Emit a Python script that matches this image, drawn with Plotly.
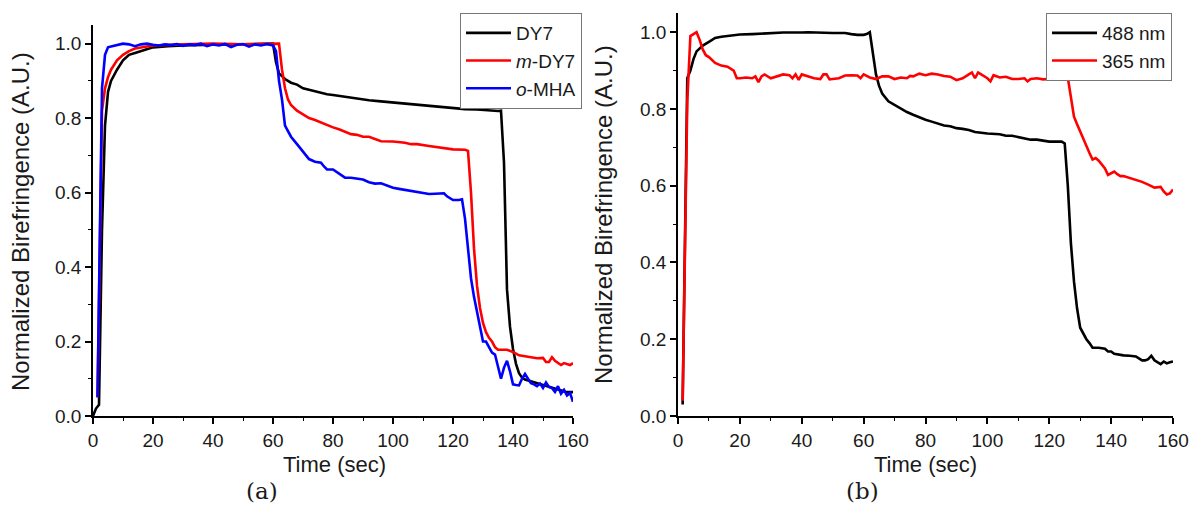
"""Normalized birefringence vs time, two panels (a) and (b)."""

import plotly.graph_objects as go

# ---- panel (a) data ----
dy7_t = [0, 1, 2, 3, 4, 5, 6, 8, 10, 12, 14, 16, 18, 20, 25, 30, 40, 50, 60,
         61, 62, 64, 66, 68, 70, 72, 74, 76, 78, 80, 84, 88, 92, 96, 100, 104,
         108, 112, 116, 120, 124, 128, 132, 135, 136, 137, 138, 139, 140, 141,
         142, 143, 144, 146, 148, 150, 152, 154, 156, 158, 160]
dy7_y = [0.0, 0.02, 0.03, 0.5, 0.78, 0.87, 0.9, 0.93, 0.955, 0.97, 0.975, 0.98,
         0.985, 0.99, 0.993, 0.995, 0.997, 0.998, 1.0,
         0.95, 0.92, 0.905, 0.895, 0.89, 0.88, 0.876, 0.872, 0.867, 0.864, 0.862,
         0.857, 0.852, 0.848, 0.845, 0.842, 0.838, 0.836, 0.833, 0.83, 0.827,
         0.824, 0.823, 0.82, 0.819, 0.82, 0.68, 0.34, 0.24, 0.18, 0.14,
         0.115, 0.103, 0.098, 0.093, 0.088, 0.083, 0.078, 0.072, 0.068, 0.064, 0.064]

mdy7_t = [1.5, 2.5, 3, 4, 5, 6, 8, 10, 12, 14, 16, 20, 30, 40, 50, 60, 62, 63,
          64, 65, 66, 68, 70, 72, 74, 76, 78, 80, 82, 84, 86, 88, 90, 92, 94, 96,
          100, 104, 106, 108, 112, 116, 118, 120, 124, 125, 126, 127, 128, 129,
          130, 131, 132, 133, 134, 135, 138, 140, 142, 144, 146, 148, 150, 151,
          152, 153, 154, 156, 157, 158, 159, 160]
mdy7_y = [0.05, 0.6, 0.82, 0.88, 0.91, 0.93, 0.955, 0.97, 0.98, 0.987, 0.99,
          0.995, 0.998, 1.0, 0.998, 0.998, 1.0, 0.93,
          0.88, 0.85, 0.835, 0.82, 0.81, 0.8, 0.795, 0.788, 0.782, 0.775, 0.77,
          0.763, 0.757, 0.755, 0.75, 0.75, 0.743, 0.738,
          0.737, 0.734, 0.73, 0.73, 0.725, 0.72, 0.718, 0.716, 0.715, 0.712, 0.6,
          0.45, 0.35, 0.29, 0.25, 0.225, 0.21, 0.2, 0.185, 0.178, 0.178, 0.172,
          0.163, 0.16, 0.158, 0.155, 0.156, 0.145, 0.145, 0.158, 0.148, 0.137,
          0.142, 0.14, 0.137, 0.142]

omha_t = [1.5, 2.5, 3, 4, 5, 6, 8, 10, 12, 14, 16, 18, 20, 22, 24, 26, 28, 30,
          32, 34, 36, 38, 40, 42, 44, 46, 48, 50, 52, 54, 56, 58, 60, 61, 62, 63,
          64, 66, 68, 70, 72, 74, 76, 77, 78, 80, 82, 84, 86, 88, 90, 92, 94, 96,
          98, 100, 102, 104, 106, 108, 110, 112, 114, 116, 117, 118, 120, 122,
          123, 124, 125, 126, 127, 128, 129, 130, 131, 132, 133, 134, 135, 136,
          137, 138, 139, 140, 141, 142, 143, 144, 145, 146, 147, 148, 149, 150,
          151, 152, 153, 154, 155, 156, 157, 158, 159, 160]
omha_y = [0.05, 0.7, 0.88, 0.97, 0.99, 0.992, 0.995, 1.0, 0.998, 0.993, 0.998,
          1.0, 0.997, 0.995, 0.998, 0.996, 0.999, 0.994, 0.998, 0.996, 1.0,
          0.993, 0.998, 0.995, 0.999, 0.991, 0.997, 0.999, 0.992, 0.998, 0.995,
          0.999, 0.995, 0.98, 0.9, 0.85,
          0.78, 0.75, 0.73, 0.71, 0.69, 0.683, 0.68, 0.67, 0.662, 0.662, 0.65,
          0.64, 0.64, 0.638, 0.635, 0.628, 0.624, 0.625, 0.618, 0.613, 0.61,
          0.607, 0.605, 0.602, 0.598, 0.596, 0.597, 0.598, 0.598, 0.59, 0.58,
          0.58, 0.582, 0.53, 0.45, 0.37, 0.32, 0.28, 0.24, 0.2, 0.2, 0.185, 0.17,
          0.165, 0.135, 0.1, 0.13, 0.148, 0.12, 0.085, 0.083, 0.082, 0.1, 0.113,
          0.1, 0.088, 0.085, 0.08, 0.087, 0.075, 0.09, 0.078, 0.075, 0.065, 0.08,
          0.06, 0.07, 0.055, 0.062, 0.038]

# ---- panel (b) data ----
nm488_t = [1.5, 2, 2.5, 3, 4, 5, 6, 8, 10, 12, 14, 16, 18, 20, 24, 30, 34, 40,
           42, 50, 54, 56, 58, 60, 61, 62, 63, 64, 65, 66, 68, 70, 72, 74, 76,
           78, 80, 82, 84, 86, 88, 90, 92, 94, 96, 98, 100, 104, 106, 108, 110,
           114, 116, 118, 120, 124, 125, 126, 127, 128, 129, 130, 131, 132, 133,
           134, 136, 138, 139, 140, 141, 142, 144, 146, 148, 150, 151, 152, 153,
           154, 155, 156, 157, 158, 159, 160]
nm488_y = [0.03, 0.35, 0.7, 0.88, 0.9, 0.93, 0.95, 0.965, 0.975, 0.985, 0.988,
           0.99, 0.993, 0.994, 0.995, 0.997, 0.999, 0.999, 1.0, 0.998, 0.998,
           0.995, 0.993, 0.993, 0.995, 1.0, 0.95, 0.89, 0.86, 0.84, 0.82, 0.81,
           0.8, 0.792, 0.785, 0.778, 0.772, 0.767, 0.762, 0.757, 0.755, 0.75,
           0.748, 0.745, 0.74, 0.737, 0.736, 0.734, 0.73, 0.73, 0.727, 0.72,
           0.72, 0.717, 0.715, 0.715, 0.71, 0.6, 0.45, 0.35, 0.28, 0.23, 0.215,
           0.2, 0.19, 0.178, 0.178, 0.175, 0.168, 0.168, 0.162, 0.16, 0.158,
           0.157, 0.155, 0.145, 0.145, 0.148, 0.157, 0.145, 0.14, 0.135, 0.142,
           0.137, 0.14, 0.142]

nm365_t = [1.5, 2.5, 3, 4, 5, 6, 7, 8, 9, 10, 12, 14, 16, 18, 19, 20, 22, 24,
           25, 26, 27, 28, 30, 32, 34, 36, 37, 38, 39, 40, 42, 44, 46, 47, 48,
           49, 50, 52, 54, 56, 58, 59, 60, 62, 64, 66, 68, 70, 72, 74, 75, 76,
           78, 80, 82, 84, 86, 88, 90, 92, 94, 95, 96, 97, 98, 100, 101, 102, 104,
           106, 108, 110, 112, 113, 114, 116, 118, 120, 122, 124, 126, 127, 128,
           129, 130, 131, 132, 133, 134, 135, 136, 137, 138, 139, 140, 141, 142,
           143, 144, 146, 148, 150, 152, 154, 156, 157, 158, 159, 160]
nm365_y = [0.04, 0.5, 0.82, 0.99, 0.995, 1.0, 0.98, 0.955, 0.94, 0.935, 0.92,
           0.913, 0.91, 0.9, 0.88, 0.88, 0.882, 0.88, 0.885, 0.87, 0.885, 0.89,
           0.88, 0.885, 0.89, 0.888, 0.88, 0.89, 0.876, 0.89, 0.885, 0.88, 0.878,
           0.89, 0.89, 0.877, 0.878, 0.88, 0.887, 0.888, 0.887, 0.88, 0.89,
           0.882, 0.878, 0.885, 0.885, 0.878, 0.882, 0.88, 0.886, 0.885, 0.892,
           0.888, 0.892, 0.89, 0.886, 0.884, 0.875, 0.88, 0.89, 0.895, 0.88,
           0.895, 0.89, 0.88, 0.872, 0.888, 0.882, 0.884, 0.878, 0.878, 0.88,
           0.872, 0.878, 0.88, 0.877, 0.878, 0.876, 0.878, 0.882, 0.83, 0.78,
           0.76, 0.74, 0.72, 0.7, 0.685, 0.668, 0.672, 0.665, 0.655, 0.645,
           0.628, 0.633, 0.637, 0.63, 0.625, 0.625, 0.62, 0.617, 0.61, 0.603,
           0.595, 0.597, 0.585, 0.577, 0.58, 0.59]

W, H = 1189, 532
FONT = "Liberation Sans, Arial, sans-serif"
TEXT = "#1a1a1a"


def px_x(p):
    return p / W


def px_y(p):
    return 1 - p / H


fig = go.Figure()

fig.add_trace(go.Scatter(x=dy7_t, y=dy7_y, name="DY7", mode="lines",
                         line=dict(color="#000000", width=2.6),
                         xaxis="x", yaxis="y", legend="legend"))
fig.add_trace(go.Scatter(x=mdy7_t, y=mdy7_y, name="<i>m</i>-DY7", mode="lines",
                         line=dict(color="#ff0000", width=2.6),
                         xaxis="x", yaxis="y", legend="legend"))
fig.add_trace(go.Scatter(x=omha_t, y=omha_y, name="<i>o</i>-MHA", mode="lines",
                         line=dict(color="#0000ff", width=2.6),
                         xaxis="x", yaxis="y", legend="legend"))
fig.add_trace(go.Scatter(x=nm488_t, y=nm488_y, name="488 nm", mode="lines",
                         line=dict(color="#000000", width=2.6),
                         xaxis="x2", yaxis="y2", legend="legend2"))
fig.add_trace(go.Scatter(x=nm365_t, y=nm365_y, name="365 nm", mode="lines",
                         line=dict(color="#ff0000", width=2.6),
                         xaxis="x2", yaxis="y2", legend="legend2"))

axis_common = dict(
    showline=True, linecolor="black", linewidth=1.5,
    showgrid=False, zeroline=False, automargin=False,
    ticks="outside", ticklen=6, tickwidth=1.5, tickcolor="black",
    tickfont=dict(family=FONT, size=19, color=TEXT),
)

x_common = dict(axis_common, range=[0, 160], tick0=0, dtick=20,
                minor=dict(ticks="outside", ticklen=3, tickwidth=1.2,
                           tickcolor="black", dtick=10, showgrid=False))
y_common = dict(axis_common, range=[0, 1.05], tick0=0, dtick=0.2,
                tickformat=".1f",
                minor=dict(ticks="outside", ticklen=3, tickwidth=1.2,
                           tickcolor="black", dtick=0.1, showgrid=False))

legend_common = dict(
    bgcolor="white", bordercolor="#777", borderwidth=1,
    font=dict(family=FONT, size=19, color=TEXT),
    xanchor="right", yanchor="top", tracegroupgap=0, itemwidth=45,
)

fig.update_layout(
    width=W, height=H,
    margin=dict(l=0, r=0, t=0, b=0),
    paper_bgcolor="white", plot_bgcolor="white",
    xaxis=dict(x_common, domain=[px_x(93), px_x(573)], anchor="y"),
    yaxis=dict(y_common, domain=[px_y(416), px_y(25)], anchor="x"),
    xaxis2=dict(x_common, domain=[px_x(678), px_x(1173)], anchor="y2"),
    yaxis2=dict(y_common, domain=[px_y(416), px_y(13)], anchor="x2"),
    legend=dict(legend_common, x=px_x(582), y=px_y(13)),
    legend2=dict(legend_common, x=px_x(1172), y=px_y(13)),
    showlegend=True,
)

annots = [
    dict(text="Normalized Birefringence (A.U.)", x=px_x(20), y=px_y(222),
         textangle=-90, font=dict(family=FONT, size=24, color=TEXT)),
    dict(text="Normalized Birefringence (A.U.)", x=px_x(603), y=px_y(215),
         textangle=-90, font=dict(family=FONT, size=24, color=TEXT)),
    dict(text="Time (sec)", x=px_x(334), y=px_y(464),
         font=dict(family=FONT, size=22, color=TEXT)),
    dict(text="Time (sec)", x=px_x(926), y=px_y(464),
         font=dict(family=FONT, size=22, color=TEXT)),
    dict(text="(a)", x=px_x(262), y=px_y(491),
         font=dict(family="DejaVu Serif, serif", size=23, color=TEXT)),
    dict(text="(b)", x=px_x(862), y=px_y(491),
         font=dict(family="DejaVu Serif, serif", size=23, color=TEXT)),
]
for a in annots:
    fig.add_annotation(xref="paper", yref="paper", showarrow=False,
                       xanchor="center", yanchor="middle", **a)

# drop the default page margin so the figure fills the window exactly
fig.write_html("out.html",
               config={"displayModeBar": False},
               post_script="document.body.style.margin='0';"
                           "document.body.style.overflow='hidden';")
